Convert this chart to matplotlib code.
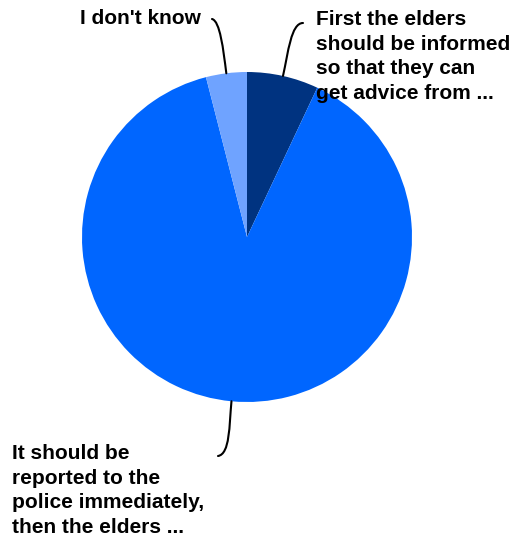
import numpy as np
import matplotlib
matplotlib.use("Agg")
import matplotlib.pyplot as plt
from matplotlib.path import Path
from matplotlib.patches import PathPatch

labels = ["First the elders\nshould be informed\nso that they can\nget advice from ...",
          "It should be\nreported to the\npolice immediately,\nthen the elders ...",
          "I don't know"]
values = [7, 89, 4]
colors = ["#003380", "#0066ff", "#6fa3ff"]

W, H = 512, 542
fig = plt.figure(figsize=(W / 100, H / 100), dpi=100)
ax = fig.add_axes([0, 0, 1, 1])

cx, cy, r = 247, 237, 165
wedges, _ = ax.pie(values, colors=colors, startangle=-90, counterclock=True,
                   center=(cx, cy), radius=r, frame=True,
                   wedgeprops=dict(linewidth=0))
ax.set_xlim(0, W)
ax.set_ylim(H, 0)
ax.axis("off")

label_cfg = [
    dict(x=316, y=10, ha="left", va="top", end=(303, 23)),
    dict(x=12, y=444, ha="left", va="top", end=(218, 456)),
    dict(x=201, y=18, ha="right", va="center", end=(212, 19)),
]

total = sum(values)
cum = 0
for v, lab, cfg in zip(values, labels, label_cfg):
    mid = (cum + v / 2) / total * 2 * np.pi
    cum += v
    ax_x = cx + r * np.sin(mid)
    ax_y = cy - r * np.cos(mid)
    ex, ey = cfg["end"]
    dx, dy = np.sin(mid), -np.cos(mid)
    c1 = (ax_x + dx * 0.45 * abs(ey - ax_y), ax_y + dy * 0.45 * abs(ey - ax_y))
    if ey < cy:
        c2 = (ex - 12, ey) if ex > ax_x else (ex + 8, ey + 2)
    else:
        c2 = (ex + 12, ey - 2)
    path = Path([(ax_x, ax_y), c1, c2, (ex, ey)],
                [Path.MOVETO, Path.CURVE4, Path.CURVE4, Path.CURVE4])
    ax.add_patch(PathPatch(path, fill=False, lw=1.5, color="black",
                           capstyle="round"))
    ax.text(cfg["x"], cfg["y"], lab, ha=cfg["ha"], va=cfg["va"],
            fontsize=15, fontweight="bold", family="Liberation Sans",
            linespacing=1.37, color="black")

fig.savefig("out.png", dpi=100)
